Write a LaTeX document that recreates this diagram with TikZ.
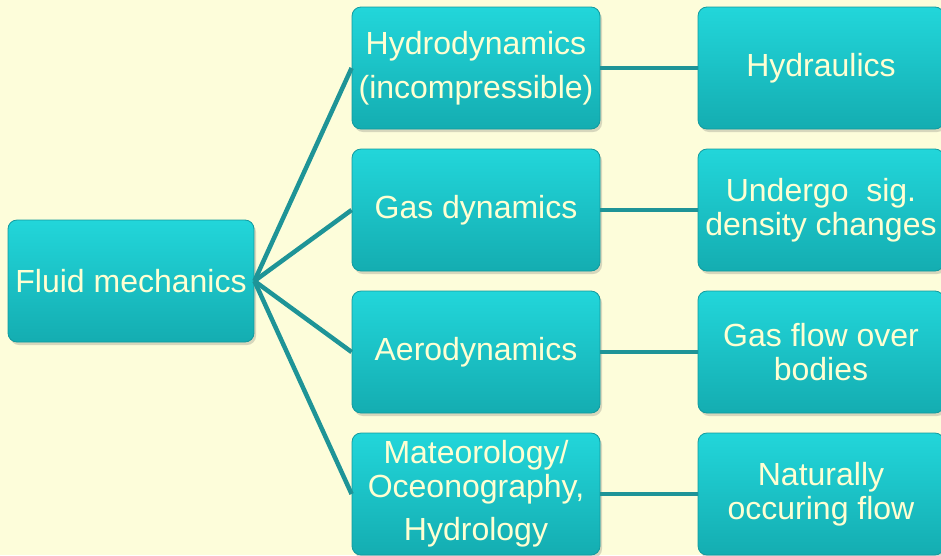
\documentclass[tikz,border=0pt]{standalone}
\usepackage{fontspec}
\setmainfont{Liberation Sans}
\usetikzlibrary{shadows}
\definecolor{bgyellow}{HTML}{FDFDDA}
\definecolor{boxtop}{HTML}{22D6DA}
\definecolor{boxbot}{HTML}{14ADB1}
\definecolor{boxedge}{HTML}{129A9E}
\definecolor{linkteal}{HTML}{1E9497}
\definecolor{txtyellow}{HTML}{FFFFD2}
\begin{document}
\begin{tikzpicture}[x=1pt,y=-1pt,
  tbox/.style={rectangle, rounded corners=9pt, top color=boxtop, bottom color=boxbot,
    draw=boxedge, line width=0.8pt, text=txtyellow, align=center, inner sep=2pt,
    font=\fontsize{32}{34}\selectfont,
    drop shadow={shadow xshift=2pt, shadow yshift=-3pt, opacity=0.25, fill=black!60}},
  leftbox/.style={tbox, minimum width=246pt, minimum height=122pt},
  midbox/.style={tbox, minimum width=248pt, minimum height=122pt},
  rightbox/.style={tbox, minimum width=246pt, minimum height=122pt},
  link/.style={draw=linkteal, line width=4.5pt}]
\useasboundingbox[fill=bgyellow] (0,0) rectangle (941,555);
% root
\node [leftbox] (fluid) at (131,281) {Fluid mechanics};
% branches
\node [midbox] (hydro) at (476,68) {Hydrodynamics\\[10pt](incompressible)};
\node [midbox] (gas) at (476,210) {Gas dynamics};
\node [midbox] (aero) at (476,352) {Aerodynamics};
\node [midbox] (meteo) at (476,494) {Mateorology/\\Oceonography,\\[9pt]Hydrology};
% leaves
\node [rightbox] (hydraulics) at (821,68) {Hydraulics};
\node [rightbox] (density) at (821,210) {Undergo~~sig.\\density changes};
\node [rightbox] (bodies) at (821,352) {Gas flow over\\bodies};
\node [rightbox] (natural) at (821,494) {Naturally\\occuring flow};
% connectors
\draw [link] (fluid.east) -- (hydro.west);
\draw [link] (fluid.east) -- (gas.west);
\draw [link] (fluid.east) -- (aero.west);
\draw [link] (fluid.east) -- (meteo.west);
\draw [link] (hydro.east) -- (hydraulics.west);
\draw [link] (gas.east) -- (density.west);
\draw [link] (aero.east) -- (bodies.west);
\draw [link] (meteo.east) -- (natural.west);
\end{tikzpicture}
\end{document}
